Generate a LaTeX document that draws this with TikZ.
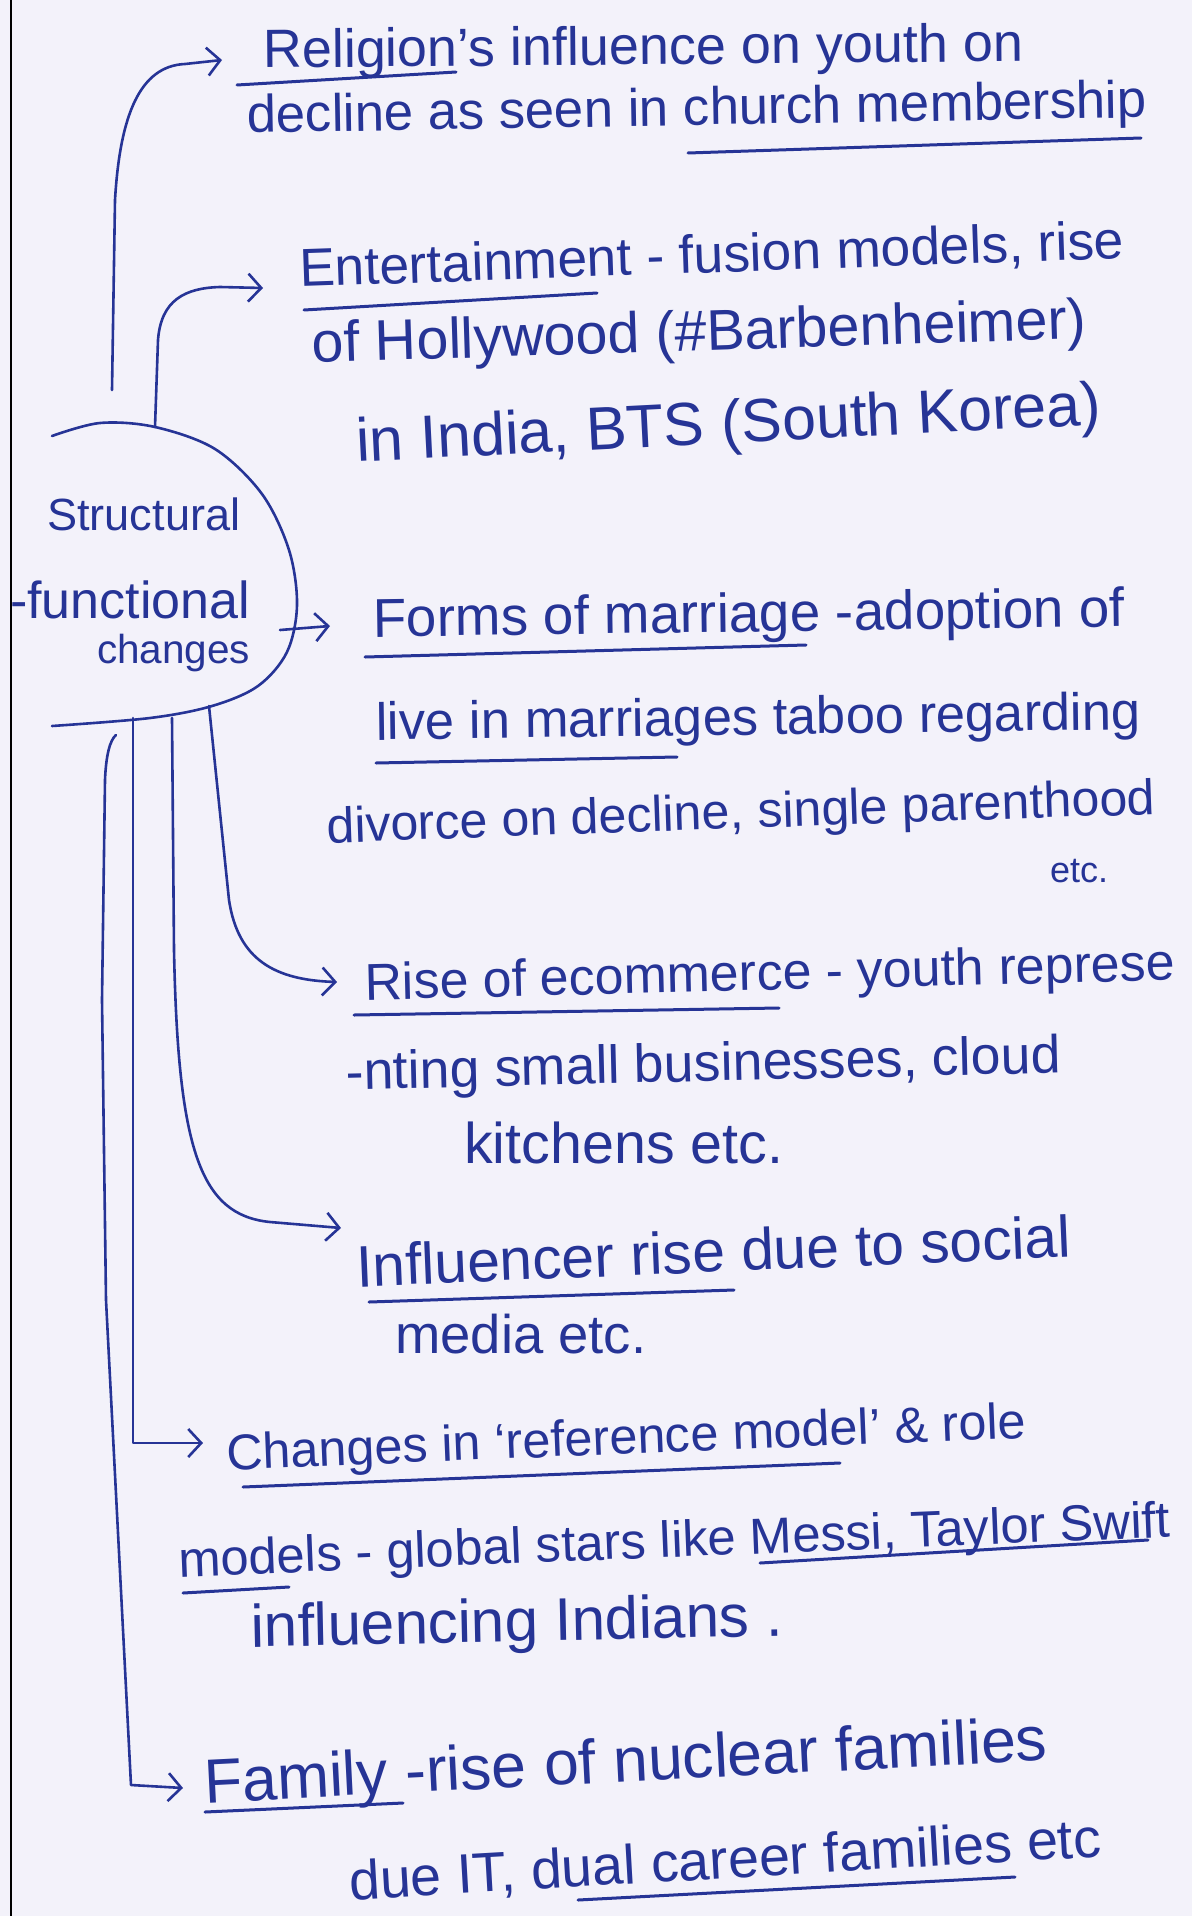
\documentclass[tikz,border=0pt]{standalone}
\usepackage{fontspec}
\setmainfont{Liberation Sans}
\usetikzlibrary{arrows.meta}
\definecolor{ink}{RGB}{38,52,150}
\definecolor{paper}{RGB}{243,242,250}
\newcommand{\fitt}[2]{\resizebox{#1pt}{!}{#2}}
\begin{document}
\begin{tikzpicture}[x=1pt,y=-1pt,
  txt/.style={anchor=base west, inner sep=0pt, text=ink},
  pen/.style={draw=ink, line width=2.6pt, line cap=round, line join=round},
  uline/.style={draw=ink, line width=3pt, line cap=round},
  arr/.style={pen, -{Straight Barb[length=13pt,width=28pt]}}]
\useasboundingbox (0,0) rectangle (1192,1916);
\fill[paper] (0,0) rectangle (1192,1916);
\draw[black, line width=2pt] (11,0) -- (11,1916);

% hub
\draw[pen] plot[smooth, tension=0.55] coordinates {(52,436) (100,423) (155,427) (215,449) (262,494) (289,550) (297,605) (287,652) (258,686) (212,706) (150,718) (52,726)};
\node[txt] (s1) at (47,530) {\fitt{193}{Structural}};
\node[txt] (s2) at (10,618) {\fitt{240}{-functional}};
\node[txt] (s3) at (97,663) {\fitt{153}{changes}};

% texts
\node[txt, rotate=0.5] (t1) at (263,68) {\fitt{760}{Religion's influence on youth on}};
\node[txt, rotate=1.0] (t2) at (247,133) {\fitt{900}{decline as seen in church membership}};
\node[txt, rotate=2] (t3) at (300,287) {\fitt{825}{Entertainment - fusion models, rise}};
\node[txt, rotate=1.8] (t4) at (312,363) {\fitt{775}{of Hollywood (\#Barbenheimer)}};
\node[txt, rotate=2.9] (t5) at (357,462) {\fitt{745}{in India, BTS (South Korea)}};
\node[txt, rotate=0.8] (t6) at (373,637) {\fitt{752}{Forms of marriage -adoption of}};
\node[txt, rotate=0.8] (t7) at (376,740) {\fitt{765}{live in marriages taboo regarding}};
\node[txt, rotate=2] (t8) at (327,843) {\fitt{829}{divorce on decline, single parenthood}};
\node[txt] (t9) at (1050,882) {\fitt{58}{etc.}};
\node[txt, rotate=1.4] (t10) at (365,1000) {\fitt{810}{Rise of ecommerce - youth represe}};
\node[txt, rotate=1.4] (t11) at (346,1090) {\fitt{715}{-nting small businesses, cloud}};
\node[txt] (t12) at (464,1163) {\fitt{319}{kitchens etc.}};
\node[txt, rotate=2.4] (t13) at (357,1287) {\fitt{715}{Influencer rise due to social}};
\node[txt] (t14) at (395,1353) {\fitt{251}{media etc.}};
\node[txt, rotate=2.3] (t15) at (227,1470) {\fitt{800}{Changes in `reference model' \& role}};
\node[txt, rotate=2.3] (t16) at (179,1577) {\fitt{992}{models - global stars like Messi, Taylor Swift}};
\node[txt, rotate=1.2] (t17) at (251,1647) {\fitt{532}{influencing Indians .}};
\node[txt, rotate=2.9] (t18) at (205,1803) {\fitt{844}{Family -rise of nuclear families}};
\node[txt, rotate=3.3] (t19) at (350,1900) {\fitt{753}{due IT, dual career families etc}};

% underlines
\draw[uline] (237,85) -- (456,72);
\draw[uline] (688,153) -- (1141,138);
\draw[uline] (304,310) -- (597,293);
\draw[uline] (365,657) -- (806,645);
\draw[uline] (376,763) -- (677,757);
\draw[uline] (354,1015) -- (779,1008);
\draw[uline] (369,1302) -- (734,1290);
\draw[uline] (243,1487) -- (840,1463);
\draw[uline] (183,1593) -- (289,1587);
\draw[uline] (760,1563) -- (1148,1540);
\draw[uline] (205,1812) -- (403,1803);
\draw[uline] (578,1900) -- (1015,1877);

% connector ends
\coordinate (c1s) at (112,390); \coordinate (c1e) at (222,60);
\coordinate (c2s) at (155,427); \coordinate (c2e) at (263,288);
\coordinate (c3s) at (280,630); \coordinate (c3e) at (330,626);
\coordinate (c4s) at (209,706); \coordinate (c4e) at (337,982);
\coordinate (c5s) at (172,718); \coordinate (c5e) at (341,1228);
\coordinate (c6s) at (133,718); \coordinate (c6e) at (203,1443);
\coordinate (c7s) at (116,735); \coordinate (c7e) at (183,1788);

\draw[arr] (c1s) -- (115,200) .. controls (120,115) and (140,66) .. (185,64) -- (c1e);
\draw[arr] (c2s) -- (158,340) .. controls (161,300) and (185,288) .. (220,287) -- (c2e);
\draw[arr] (c3s) -- (c3e);
\draw[arr] (c4s) -- (229,900) .. controls (238,960) and (275,980) .. (c4e);
\draw[arr] (c5s) -- (174,950) .. controls (178,1150) and (200,1215) .. (270,1222) -- (c5e);
\draw[arr] (c6s) -- (133,1443) -- (c6e);
\draw[arr] (c7s) .. controls (110,740) and (106,755) .. (105,780) -- (102,1000) -- (106,1300) -- (131,1785) -- (c7e);
\end{tikzpicture}
\end{document}
